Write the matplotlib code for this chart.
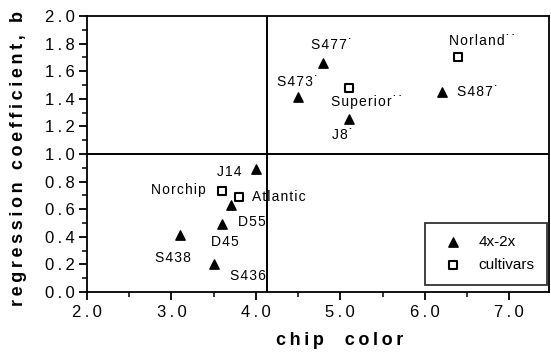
import matplotlib
matplotlib.use("Agg")
import matplotlib.pyplot as plt
from matplotlib.ticker import MultipleLocator, FuncFormatter

plt.rcParams['font.family'] = ['Liberation Sans', 'DejaVu Sans']

# 4x-2x hybrids
tri_names = ["S477*", "S473*", "J8*", "S487*", "J14", "D55", "D45", "S438", "S436"]
tri_x = [4.8, 4.5, 5.1, 6.2, 4.0, 3.7, 3.6, 3.1, 3.5]
tri_y = [1.66, 1.41, 1.25, 1.45, 0.89, 0.63, 0.49, 0.41, 0.20]

# cultivars
sq_names = ["Norland**", "Superior**", "Norchip", "Atlantic"]
sq_x = [6.4, 5.1, 3.6, 3.8]
sq_y = [1.70, 1.48, 0.73, 0.69]

# label offsets in points
tri_off = [(-9, 13), (-15, 11), (-12, -11), (11, 0), (-28, -2), (5, -12), (-8, -13), (-18, -16), (12, -8)]
sq_off = [(-7, 12), (-13, -10), (-51, 1), (9, 0)]

HS = '\u200a'   # hair space, for the wide letter spacing of the original
TS = '\u2009'   # thin space


def spaced(s, sp=HS):
    return sp.join(s)


fig = plt.figure(figsize=(5.51, 3.54), dpi=100)
ax = fig.add_axes([0.158, 0.175, 0.838, 0.78])

ax.scatter(tri_x, tri_y, marker='^', s=45, color='black', label='4x-2x', zorder=3)
ax.scatter(sq_x, sq_y, marker='s', s=40, facecolors='white', edgecolors='black',
           linewidths=1.5, label='cultivars', zorder=3)

for name, x, y, off in zip(tri_names + sq_names, tri_x + sq_x, tri_y + sq_y, tri_off + sq_off):
    ax.annotate(spaced(name.replace('*', '\u02d9')), (x, y), xytext=off,
                textcoords='offset points', fontsize=10, va='center', ha='left')

ax.axhline(1.0, color='black', lw=1.4)
ax.axvline(4.13, color='black', lw=1.4)

ax.set_xlim(2.0, 7.47)
ax.set_ylim(0.0, 2.0)
ax.xaxis.set_major_locator(MultipleLocator(1.0))
ax.xaxis.set_minor_locator(MultipleLocator(0.5))
ax.yaxis.set_major_locator(MultipleLocator(0.2))
ax.yaxis.set_minor_locator(MultipleLocator(0.1))
fmt = FuncFormatter(lambda v, p: spaced('%.1f' % v, TS))
ax.xaxis.set_major_formatter(fmt)
ax.yaxis.set_major_formatter(fmt)
ax.tick_params(which='major', direction='out', length=5.5, width=1.3, labelsize=12)
ax.tick_params(which='minor', direction='out', length=3.5, width=1.1)
ax.tick_params(top=False, right=False)
for s in ax.spines.values():
    s.set_linewidth(1.3)

ax.set_xlabel(spaced("chip  color", TS), fontsize=13, fontweight='bold', va='top')
ax.set_ylabel(spaced("regression coefficient, b", TS), fontsize=13, fontweight='bold')
ax.xaxis.set_label_coords(0.547, -0.145)
ax.yaxis.set_label_coords(-0.13, 0.484)

leg = ax.legend(loc='lower right', frameon=True, fancybox=False, edgecolor='black',
                fontsize=11, borderpad=0.8, handletextpad=0.7, labelspacing=0.6,
                borderaxespad=0, bbox_to_anchor=(0.996, 0.027))
leg.get_frame().set_linewidth(1.3)

fig.savefig("out.png", dpi=100)
